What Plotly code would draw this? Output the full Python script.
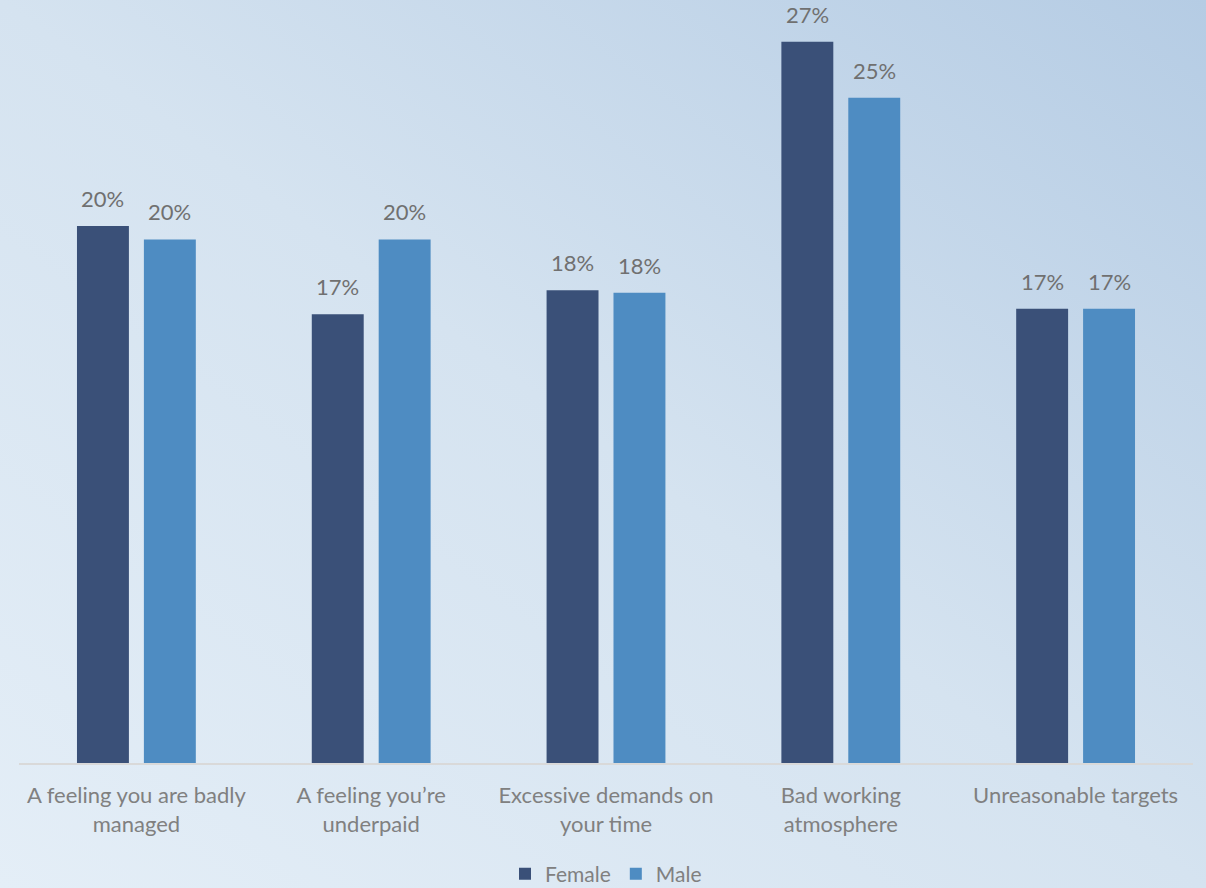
import base64
import plotly.graph_objects as go

# Survey data: share of respondents citing each reason, by gender
categories = [
    "A feeling you are badly<br>managed",
    "A feeling you\u2019re<br>underpaid",
    "Excessive demands on<br>your time",
    "Bad working<br>atmosphere",
    "Unreasonable targets",
]
female = [0.201, 0.168, 0.177, 0.270, 0.170]
male = [0.196, 0.196, 0.176, 0.249, 0.170]

FEMALE_COLOR = "#3A5078"
MALE_COLOR = "#4E8CC2"
FONT = "Lato, 'Noto Sans', sans-serif"

W, H = 1206, 888
ML, MR, MT, MB = 19, 13, 15, 125
PW, PH = W - ML - MR, H - MT - MB

fig = go.Figure()
fig.add_bar(name="Female", x=categories, y=female, marker_color=FEMALE_COLOR,
            marker_line_width=0, hoverinfo="skip")
fig.add_bar(name="Male", x=categories, y=male, marker_color=MALE_COLOR,
            marker_line_width=0, hoverinfo="skip")

# Percentage labels floating above each bar
slot = PW / len(categories) * (1 - 0.43) / 2
for cat, f, m in zip(categories, female, male):
    for val, shift in ((f, -slot / 2), (m, slot / 2)):
        fig.add_annotation(x=cat, y=val, text=f"{val:.0%}", showarrow=False,
                           xshift=shift, yshift=12, yanchor="bottom",
                           font=dict(family=FONT, size=22, color="#707070"))

# Soft diagonal gradient backdrop
svg = (
    '<svg xmlns="http://www.w3.org/2000/svg" width="1206" height="888" '
    'preserveAspectRatio="none">'
    '<defs><linearGradient id="g" x1="0" y1="1" x2="1" y2="0">'
    '<stop offset="0" stop-color="#E4EEF7"/>'
    '<stop offset="0.5" stop-color="#D5E3F0"/>'
    '<stop offset="1" stop-color="#B5CCE4"/>'
    '</linearGradient></defs>'
    '<rect width="1206" height="888" fill="url(#g)"/></svg>'
)
src = "data:image/svg+xml;base64," + base64.b64encode(svg.encode()).decode()
fig.add_layout_image(source=src, xref="paper", yref="paper",
                     x=-ML / PW, y=1 + MT / PH, sizex=W / PW, sizey=H / PH,
                     xanchor="left", yanchor="top", sizing="stretch",
                     layer="below")

fig.update_layout(
    width=W, height=H,
    margin=dict(l=ML, r=MR, t=MT, b=MB, autoexpand=False),
    barmode="group", bargap=0.43, bargroupgap=0.224,
    paper_bgcolor="rgba(0,0,0,0)", plot_bgcolor="rgba(0,0,0,0)",
    font=dict(family=FONT, size=22, color="#808080"),
    showlegend=True,
    legend=dict(orientation="h", x=0.5, xanchor="center", y=-0.121,
                yanchor="top", font=dict(size=21, color="#808080"),
                itemwidth=30, tracegroupgap=0, bgcolor="rgba(0,0,0,0)"),
    xaxis=dict(showgrid=False, showline=True, linecolor="#D9D9D9",
               linewidth=2, ticks="", ticklabelstandoff=12,
               tickfont=dict(size=22, color="#808080"),
               automargin=False, fixedrange=True),
    yaxis=dict(range=[0, 0.28], visible=False, showgrid=False,
               zeroline=False, automargin=False, fixedrange=True),
)

fig.write_html("out.html")
